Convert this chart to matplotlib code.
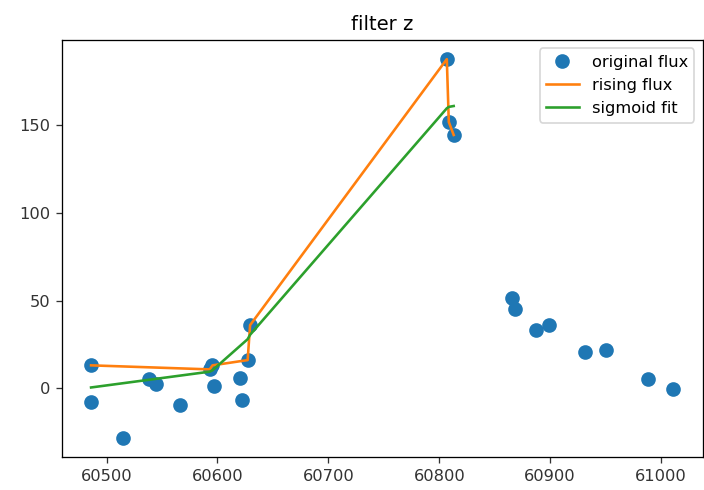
import matplotlib
matplotlib.use('Agg')
from matplotlib import pyplot as plt

# observed flux, filter z
mjd = [60486, 60486, 60514.6, 60538, 60544.4, 60566, 60593, 60595.5, 60596.5,
       60620.4, 60621.8, 60627.2, 60629.4, 60806.8, 60808.6, 60813,
       60866, 60868, 60887, 60899, 60931.3, 60950.4, 60988, 61011.2]
flux = [13.1, -8.0, -28.4, 5.1, 2.3, -9.7, 10.8, 13.1, 1.1,
        6.1, -6.6, 16.1, 36.0, 187.5, 151.7, 144.3,
        51.5, 45.3, 33.5, 36.0, 20.6, 21.8, 5.1, -0.2]

# rising part of the light curve
rise_mjd = [60486, 60593, 60595.5, 60627.2, 60629.4, 60806.8, 60808.6, 60813]
rise_flux = [13.1, 10.8, 13.1, 16.1, 36.0, 187.5, 151.7, 144.3]
sigmoid = [0.5, 9.5, 10.3, 28.0, 30.5, 159.5, 160.3, 160.8]

fig = plt.figure(dpi=117, figsize=(704 / 117, 490 / 117))
ax = fig.add_axes([0.088, 0.067, 0.910, 0.851])
ax.plot(mjd, flux, 'o', markersize=8, label='original flux')
ax.plot(rise_mjd, rise_flux, linewidth=1.6, label='rising flux')
ax.plot(rise_mjd, sigmoid, linewidth=1.6, label='sigmoid fit')
ax.set_title('filter z')
ax.tick_params(axis='both', colors='#333333', labelcolor='#333333')
ax.legend(loc='upper right')

fig.savefig('out.png')
